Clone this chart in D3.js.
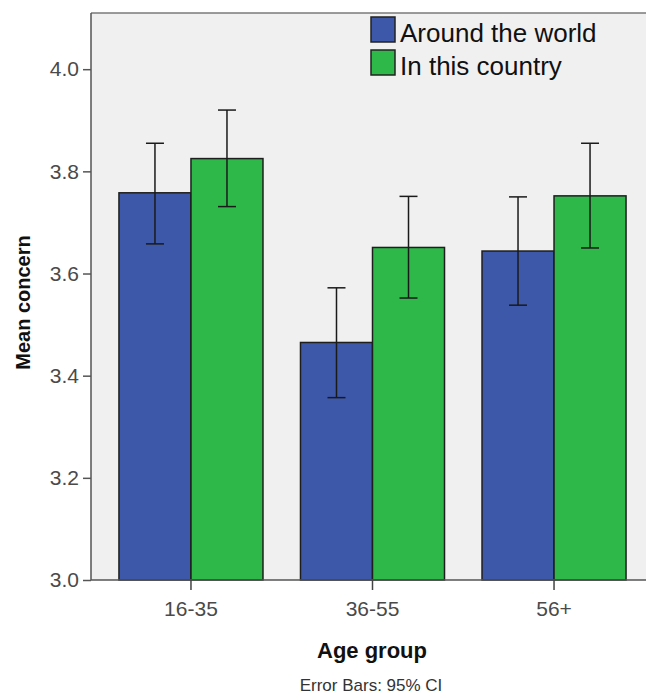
<!DOCTYPE html>
<html>
<head>
<meta charset="utf-8">
<script src="https://cdn.jsdelivr.net/npm/d3@7"></script>
<style>
  html, body { margin: 0; padding: 0; background: #ffffff; }
  svg { display: block; font-family: "Liberation Sans", Arial, sans-serif; }
</style>
</head>
<body>
<svg id="chart" width="646" height="697"></svg>
<script>
// ---- data ----
const categories = ["16-35", "36-55", "56+"];
const seriesNames = ["Around the world", "In this country"];
const seriesColors = ["#3d58a9", "#2fb84a"];
const worldMeans = [3.758, 3.465, 3.644];
const worldLow   = [3.658, 3.357, 3.538];
const worldHigh  = [3.855, 3.572, 3.750];
const countryMeans = [3.825, 3.651, 3.752];
const countryLow   = [3.731, 3.552, 3.650];
const countryHigh  = [3.920, 3.751, 3.855];
const yTicks = [3.0, 3.2, 3.4, 3.6, 3.8, 4.0];
const yAxisTitle = "Mean concern";
const xAxisTitle = "Age group";
const footnote = "Error Bars: 95% CI";

const seriesData = [
  { name: seriesNames[0], color: seriesColors[0], mean: worldMeans, lo: worldLow, hi: worldHigh },
  { name: seriesNames[1], color: seriesColors[1], mean: countryMeans, lo: countryLow, hi: countryHigh }
];

// ---- layout ----
const plot = { left: 91, right: 654, top: 13, bottom: 580 };
const svg = d3.select("#chart");

const x = d3.scaleBand().domain(categories).range([plot.left, plot.right])
  .paddingInner(0.2066).paddingOuter(0.154);
const xs = d3.scaleBand().domain(seriesNames).range([0, x.bandwidth()]).padding(0);
const y = d3.scaleLinear().domain([3.0, 4.11]).range([plot.bottom, plot.top]);

// background
svg.append("rect")
  .attr("x", plot.left).attr("y", plot.top)
  .attr("width", plot.right - plot.left).attr("height", plot.bottom - plot.top)
  .attr("fill", "#f0f0f0");

// top border
svg.append("line")
  .attr("x1", plot.left).attr("x2", plot.right)
  .attr("y1", plot.top).attr("y2", plot.top)
  .attr("stroke", "#7a7a7a").attr("stroke-width", 1.5);

// bars
const rows = [];
seriesData.forEach(s => categories.forEach((c, i) => rows.push({ s, c, i })));

svg.append("g").selectAll("rect").data(rows).join("rect")
  .attr("x", d => x(d.c) + xs(d.s.name))
  .attr("y", d => y(d.s.mean[d.i]))
  .attr("width", xs.bandwidth())
  .attr("height", d => y(3.0) - y(d.s.mean[d.i]))
  .attr("fill", d => d.s.color)
  .attr("stroke", "#1e1e1e").attr("stroke-width", 1.5);

// error bars
const eb = svg.append("g").attr("stroke", "#1a1a1a").attr("stroke-width", 1.5).attr("fill", "none");
const cap = 9;
rows.forEach(d => {
  const cx = x(d.c) + xs(d.s.name) + xs.bandwidth() / 2;
  const y1 = y(d.s.lo[d.i]), y2 = y(d.s.hi[d.i]);
  eb.append("line").attr("x1", cx).attr("x2", cx).attr("y1", y1).attr("y2", y2);
  eb.append("line").attr("x1", cx - cap).attr("x2", cx + cap).attr("y1", y1).attr("y2", y1);
  eb.append("line").attr("x1", cx - cap).attr("x2", cx + cap).attr("y1", y2).attr("y2", y2);
});

// y axis
const yAxis = svg.append("g").attr("transform", `translate(${plot.left},0)`)
  .call(d3.axisLeft(y).tickValues(yTicks).tickFormat(d3.format(".1f")).tickSize(8).tickPadding(4));
yAxis.select(".domain").attr("stroke", "#555").attr("stroke-width", 1.5)
  .attr("d", `M0,${plot.top}V${plot.bottom}`);
yAxis.selectAll(".tick line").attr("stroke", "#555").attr("stroke-width", 1.5);
yAxis.selectAll(".tick text").attr("font-size", 21).attr("fill", "#4a4a4a")
  .attr("font-family", "Liberation Sans, Arial, sans-serif");

// x axis
const xAxis = svg.append("g").attr("transform", `translate(0,${plot.bottom})`)
  .call(d3.axisBottom(x).tickSize(10).tickPadding(11));
xAxis.select(".domain").attr("stroke", "#555").attr("stroke-width", 1.5)
  .attr("d", `M${plot.left},0H${plot.right}`);
xAxis.selectAll(".tick line").attr("stroke", "#444").attr("stroke-width", 1.5);
xAxis.selectAll(".tick text").attr("font-size", 21).attr("fill", "#4a4a4a")
  .attr("font-family", "Liberation Sans, Arial, sans-serif");

// axis titles
svg.append("text")
  .attr("transform", `translate(30,${(plot.top + plot.bottom) / 2 + 6}) rotate(-90)`)
  .attr("text-anchor", "middle").attr("font-weight", "bold").attr("font-size", 20)
  .attr("fill", "#111").text(yAxisTitle);

svg.append("text")
  .attr("x", 372).attr("y", 658)
  .attr("text-anchor", "middle").attr("font-weight", "bold").attr("font-size", 22)
  .attr("fill", "#111").text(xAxisTitle);

svg.append("text")
  .attr("x", 371).attr("y", 691)
  .attr("text-anchor", "middle").attr("font-size", 17)
  .attr("fill", "#333").text(footnote);

// legend
const legend = svg.append("g").attr("transform", "translate(371,17)");
const li = legend.selectAll("g").data(seriesData).join("g")
  .attr("transform", (d, i) => `translate(0,${i * 33})`);
li.append("rect").attr("width", 24).attr("height", 25)
  .attr("fill", d => d.color).attr("stroke", "#222").attr("stroke-width", 1.5);
li.append("text").attr("x", 29).attr("y", 25).attr("font-size", 26)
  .attr("fill", "#111").text(d => d.name);
</script>
</body>
</html>
